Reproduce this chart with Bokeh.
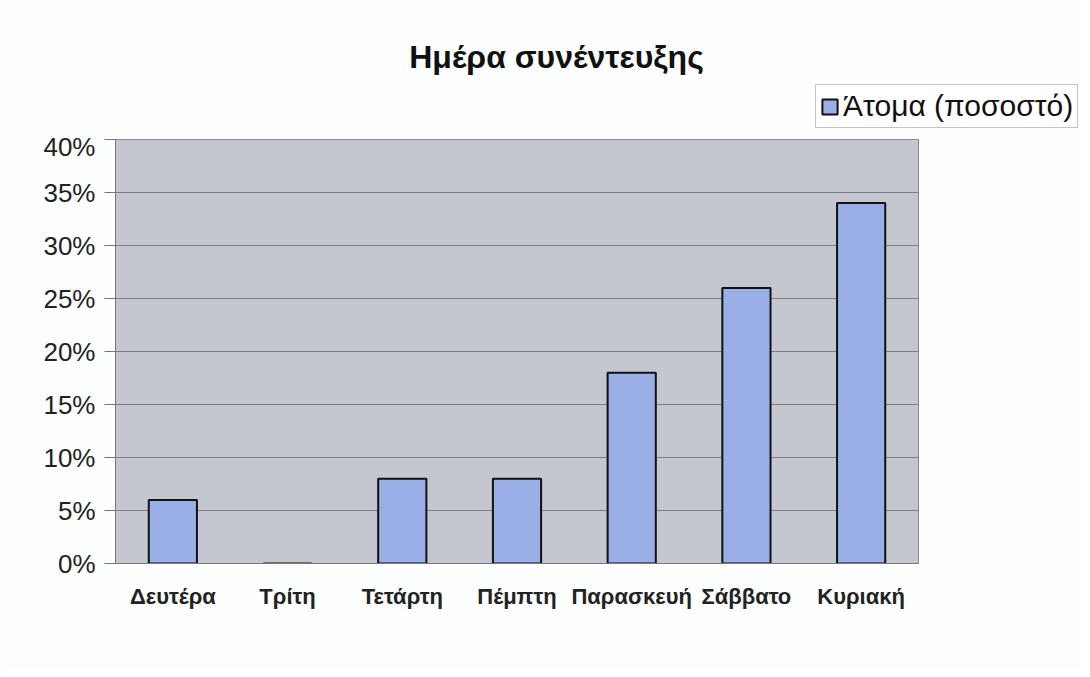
from bokeh.plotting import figure
from bokeh.layouts import column
from bokeh.models import (ColumnDataSource, NumeralTickFormatter, Legend, LegendItem,
                          FixedTicker, Label)
from bokeh.embed import file_html
from bokeh.resources import INLINE

days = ["Δευτέρα", "Τρίτη", "Τετάρτη", "Πέμπτη", "Παρασκευή", "Σάββατο", "Κυριακή"]
share = [0.06, 0.0, 0.08, 0.08, 0.18, 0.26, 0.34]
y_ticks = [0.0, 0.05, 0.10, 0.15, 0.20, 0.25, 0.30, 0.35, 0.40]
series_name = "Άτομα (ποσοστό)"
title_text = "Ημέρα συνέντευξης"

BAR_FILL = "#9aaee8"
BAR_LINE = "#111111"
W = 1082
TOP_H = 131

src = ColumnDataSource(data=dict(day=days, share=share))

# ---------- header figure: title + legend ----------
head = figure(width=W, height=TOP_H, x_range=(0, W), y_range=(0, TOP_H),
              output_backend="svg", toolbar_location=None,
              x_axis_type=None, y_axis_type=None,
              min_border=0, min_border_left=0, min_border_right=0,
              min_border_top=0, min_border_bottom=0,
              background_fill_color="#fdfefe", border_fill_color="#fdfefe")
head.frame_align = False
head.outline_line_color = None
head.xgrid.visible = False
head.ygrid.visible = False

title = Label(x=556, y=TOP_H - 56, x_units="screen", y_units="screen", text=title_text,
              text_font="Liberation Sans", text_font_size="32px", text_font_style="bold",
              text_color="#111111", text_align="center", text_baseline="middle")
head.add_layout(title)

# hidden stand-in of the bar series, only used to draw the legend swatch
proxy = head.vbar(x="share", top="share", width=1, source=src, visible=False,
                  fill_color=BAR_FILL, line_color=BAR_LINE, line_width=2)

legend = Legend(items=[LegendItem(label=series_name, renderers=[proxy])],
                location=(815, TOP_H - 128))
legend.label_text_font = "Liberation Sans"
legend.label_text_font_size = "30px"
legend.label_text_color = "#111111"
legend.border_line_color = "#8a8a8a"
legend.border_line_width = 1
legend.background_fill_color = "#ffffff"
legend.inactive_fill_alpha = 0
legend.padding = 4
legend.margin = 0
legend.glyph_width = 19
legend.glyph_height = 19
legend.label_standoff = 4
legend.spacing = 0
head.add_layout(legend)

# ---------- main chart ----------
p = figure(x_range=days, y_range=(0, 0.40), width=W, height=669 - TOP_H,
           output_backend="svg", toolbar_location=None,
           min_border_left=115, min_border_right=W - 918,
           min_border_top=139 - TOP_H, min_border_bottom=106,
           background_fill_color="#c4c6d0", border_fill_color="#fdfefe")
p.frame_align = False
p.outline_line_color = "#8a8a8a"
p.outline_line_width = 1

p.vbar(x="day", top="share", width=0.42, source=src,
       fill_color=BAR_FILL, line_color=BAR_LINE, line_width=2)

p.xgrid.grid_line_color = None
p.ygrid.grid_line_color = "#7d7d82"
p.ygrid.grid_line_width = 1
p.yaxis.ticker = FixedTicker(ticks=y_ticks)
p.yaxis.formatter = NumeralTickFormatter(format="0%")
p.yaxis.major_label_text_font = "Liberation Sans"
p.yaxis.major_label_text_font_size = "26px"
p.yaxis.major_label_text_color = "#222222"
p.yaxis.axis_line_color = "#777777"
p.yaxis.major_tick_line_color = "#777777"
p.yaxis.major_tick_out = 11
p.yaxis.major_tick_in = 0
p.yaxis.minor_tick_line_color = None
p.yaxis.major_label_standoff = 9

p.xaxis.major_label_text_font = "Liberation Sans"
p.xaxis.major_label_text_font_size = "22px"
p.xaxis.major_label_text_font_style = "bold"
p.xaxis.major_label_text_color = "#222222"
p.xaxis.axis_line_color = "#777777"
p.xaxis.major_tick_line_color = None
p.xaxis.major_label_standoff = 14

layout = column(head, p, spacing=0)
open("out.html", "w").write(file_html(layout, INLINE))
